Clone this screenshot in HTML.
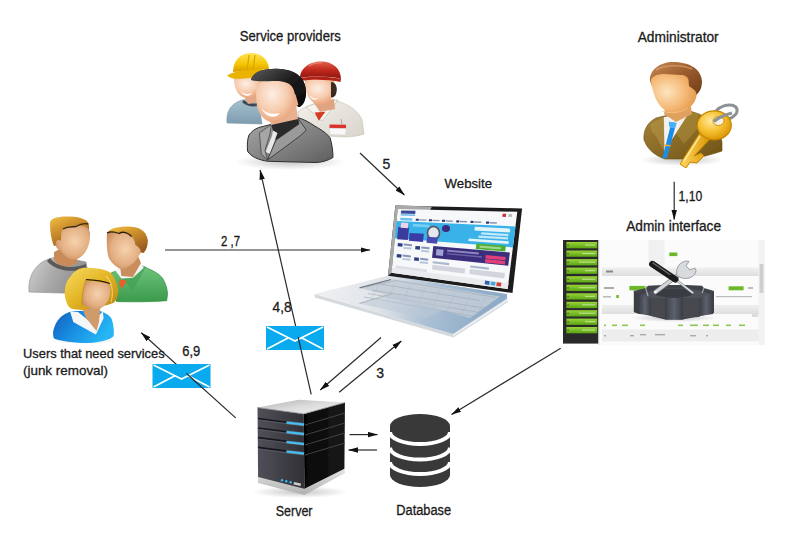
<!DOCTYPE html>
<html><head><meta charset="utf-8">
<style>
html,body{margin:0;padding:0;background:#fff;width:800px;height:547px;overflow:hidden}
svg{position:absolute;left:0;top:0}
text{font-family:"Liberation Sans",sans-serif;fill:#1a1a1a;stroke:#1a1a1a;stroke-width:0.3}
</style></head><body>
<svg width="800" height="547" viewBox="0 0 800 547">
<defs>
<filter id="soft" x="-5%" y="-5%" width="110%" height="110%"><feGaussianBlur stdDeviation="0.4"/></filter>
<marker id="ah" markerWidth="10" markerHeight="6" refX="9.5" refY="3" orient="auto" markerUnits="userSpaceOnUse">
<path d="M0,0.3 L10,3 L0,5.7 Z" fill="#111"/>
</marker>
</defs>
<g id="arrows" stroke="#2a2a2a" stroke-width="1.2" fill="none" marker-end="url(#ah)">
<line x1="165" y1="250" x2="370" y2="250"/>
<line x1="311.2" y1="394.4" x2="260.1" y2="170.1"/>
<line x1="360" y1="153" x2="404.4" y2="195"/>
<line x1="674.2" y1="181.7" x2="674.2" y2="219.6"/>
<line x1="560.7" y1="348.2" x2="451.6" y2="414.4"/>
<line x1="381" y1="337.5" x2="320.3" y2="390"/>
<line x1="339.2" y1="392.3" x2="401.3" y2="341"/>
<line x1="235.7" y1="417.9" x2="141.3" y2="332.8"/>
<line x1="349.5" y1="434.6" x2="377.5" y2="434.6"/>
<line x1="377" y1="450" x2="348.6" y2="450"/>
</g>
<g id="texts">
<text x="239.8" y="41" font-size="14" textLength="101" lengthAdjust="spacingAndGlyphs">Service providers</text>
<text x="637.7" y="42.3" font-size="14" textLength="81" lengthAdjust="spacingAndGlyphs">Administrator</text>
<text x="444.6" y="188" font-size="13.5" textLength="47.4" lengthAdjust="spacingAndGlyphs">Website</text>
<text x="626.2" y="230.6" font-size="14" textLength="94.8" lengthAdjust="spacingAndGlyphs">Admin interface</text>
<text x="23" y="358" font-size="13" textLength="141.6" lengthAdjust="spacingAndGlyphs">Users that need services</text>
<text x="23" y="374.6" font-size="13" textLength="85" lengthAdjust="spacingAndGlyphs">(junk removal)</text>
<text x="275.7" y="515.6" font-size="14" textLength="36.8" lengthAdjust="spacingAndGlyphs">Server</text>
<text x="396.3" y="514.5" font-size="14" textLength="54.8" lengthAdjust="spacingAndGlyphs">Database</text>
<text x="221" y="245.5" font-size="14" textLength="19" lengthAdjust="spacingAndGlyphs">2 ,7</text>
<text x="272.6" y="312" font-size="14" textLength="19" lengthAdjust="spacingAndGlyphs">4,8</text>
<text x="182.3" y="355.7" font-size="14" textLength="18" lengthAdjust="spacingAndGlyphs">6,9</text>
<text x="678.6" y="200.9" font-size="14" textLength="23.7" lengthAdjust="spacingAndGlyphs">1,10</text>
<text x="382.6" y="168.6" font-size="14">5</text>
<text x="376.3" y="378.3" font-size="14">3</text>
</g>

<!-- laptop -->
<g id="laptop" filter="url(#soft)">
<defs>
<linearGradient id="deckg" gradientUnits="userSpaceOnUse" x1="330" y1="285" x2="480" y2="330">
<stop offset="0" stop-color="#eceef0"/><stop offset="0.35" stop-color="#dfe3e8"/><stop offset="0.65" stop-color="#abc0d4"/><stop offset="1" stop-color="#8eabc8"/>
</linearGradient>
<linearGradient id="kbg" x1="0" y1="0" x2="1" y2="0.3">
<stop offset="0" stop-color="#c8ced6"/><stop offset="1" stop-color="#9fb4cb"/>
</linearGradient>
<linearGradient id="bezg" x1="0" y1="0" x2="1" y2="0">
<stop offset="0" stop-color="#b8b8b8"/><stop offset="0.3" stop-color="#9a9a9a"/><stop offset="0.32" stop-color="#222"/><stop offset="1" stop-color="#1a1a1a"/>
</linearGradient>
</defs>
<!-- base edge -->
<path d="M314.6,294 L453,334 L507,298.5 L508,302 L453.5,337.5 L315,297.5 Z" fill="#d4d9de"/>
<path d="M453,335.5 L507.5,300" stroke="#f4f6f8" stroke-width="1.2"/>
<!-- deck -->
<path d="M314.6,293.9 L388.9,275.5 L507,293.9 L507,298.5 L453,334 Z" fill="url(#deckg)"/>
<!-- keyboard -->
<path d="M360,288 L392,279 L500,296.5 L470,318 Z" fill="#c3ccd6" opacity="0.85"/>
<g stroke="#9aa6b4" stroke-width="0.7" opacity="0.8" fill="none">
<path d="M366,287 L396,280.5 L496,297.5"/>
<path d="M372,290 L490,309"/><path d="M368,293.5 L482,313"/><path d="M364,297 L474,316.5"/>
<path d="M380,284 L480,300.5"/>
</g>
<g stroke="#a8b4c2" stroke-width="0.6" opacity="0.7">
<path d="M380,282 L372,298"/><path d="M395,283 L387,301"/><path d="M410,285 L402,303"/><path d="M425,288 L417,306"/><path d="M440,290 L432,309"/><path d="M455,293 L447,311"/><path d="M470,295 L462,314"/><path d="M485,297 L477,316"/>
</g>
<path d="M359.5,287.8 L391,279.5" stroke="#555c66" stroke-width="1.2" opacity="0.8"/>
<!-- trackpad -->
<path d="M359.5,303.5 L392,293.5 L452,306 L426,318.5 Z" fill="#bcc9d6" opacity="0.55"/>
<path d="M359.5,303.5 L392,293.5" stroke="#a0a8b2" stroke-width="0.8"/>
<!-- bezel -->
<path d="M395.4,205.6 L522.1,208.4 L512.5,293 L388,275.7 Z" fill="#1e1e1e"/>
<path d="M395.4,205.6 L432,206.4 L429,212 L397.7,209.4 L391.5,272.8 L388,275.7 Z" fill="#a9a9a9"/>
<!-- screen -->
<path d="M397.7,209.0 L517.3,211.8 L507.7,289.1 L391.5,272.8 Z" fill="#f7f8fa"/>
<path d="M401.2,210.4 L415.5,210.7 L415.2,214.0 L400.8,213.6 Z" fill="#3a4a9a" />
<path d="M400.8,213.9 L415.1,214.4 L415.0,216.0 L400.7,215.5 Z" fill="#6ab8e8" />
<path d="M502.7,213.7 L506.3,213.8 L505.9,216.9 L502.3,216.8 Z" fill="#c83040" />
<path d="M508.6,213.9 L512.2,214.0 L511.9,217.1 L508.3,216.9 Z" fill="#bbb" />
<path d="M400.4,217.8 L412.4,218.2 L412.1,220.8 L400.2,220.3 Z" fill="#6cc0ec" />
<path d="M415.9,218.7 L418.9,218.8 L418.7,220.8 L415.7,220.7 Z" fill="#2a3a70" />
<path d="M419.4,219.2 L426.6,219.4 L426.4,220.8 L419.3,220.5 Z" fill="#8a94b0" />
<path d="M429.0,219.2 L432.0,219.3 L431.8,221.3 L428.8,221.2 Z" fill="#2a3a70" />
<path d="M432.5,219.7 L439.7,220.0 L439.5,221.3 L432.4,221.0 Z" fill="#8a94b0" />
<path d="M442.1,219.7 L445.1,219.8 L444.8,221.9 L441.9,221.8 Z" fill="#2a3a70" />
<path d="M445.6,220.2 L452.8,220.5 L452.6,221.9 L445.5,221.6 Z" fill="#8a94b0" />
<path d="M456.4,220.3 L459.4,220.4 L459.1,222.5 L456.2,222.4 Z" fill="#2a3a70" />
<path d="M459.9,220.8 L467.1,221.1 L466.9,222.5 L459.8,222.2 Z" fill="#8a94b0" />
<path d="M470.7,220.8 L473.7,221.0 L473.4,223.1 L470.4,223.0 Z" fill="#2a3a70" />
<path d="M474.2,221.3 L481.4,221.6 L481.2,223.1 L474.1,222.8 Z" fill="#8a94b0" />
<path d="M486.2,221.4 L489.2,221.6 L488.9,223.8 L485.9,223.7 Z" fill="#2a3a70" />
<path d="M489.7,222.0 L496.9,222.2 L496.7,223.8 L489.5,223.4 Z" fill="#8a94b0" />
<path d="M396.5,221.1 L515.5,226.5 L512.9,247.4 L394.8,238.3 Z" fill="#38b2e8" />
<path d="M398.3,227.0 L409.0,227.6 L407.8,240.0 L397.1,239.2 Z" fill="#3b3a9c" />
<path d="M401.2,222.6 L408.3,223.0 L407.8,228.2 L400.6,227.8 Z" fill="#f0d0e8" />
<path d="M409.7,232.9 L423.9,233.8 L423.0,241.9 L408.9,240.7 Z" fill="#3a3aa8" />
<path d="M413.0,223.8 L429.6,224.7 L429.3,227.4 L412.7,226.5 Z" fill="#7ad0f4" />
<ellipse cx="433.5" cy="233" rx="6" ry="6.5" fill="#e6e8f0" stroke="#55575e" stroke-width="1.6"/>
<ellipse cx="446" cy="228.5" rx="4" ry="3.5" fill="#3a2f80"/>
<path d="M427.1,236.7 L437.8,237.5 L437.1,243.7 L426.5,242.8 Z" fill="#4a4ab0" />
<path d="M474.8,226.8 L510.4,228.6 L510.0,232.4 L474.4,230.5 Z" fill="#ffffff" opacity="0.85"/>
<path d="M481.3,232.3 L508.6,233.9 L508.3,236.2 L481.0,234.5 Z" fill="#ffffff" opacity="0.7"/>
<path d="M478.5,235.5 L508.2,237.3 L507.9,239.6 L478.3,237.7 Z" fill="#ffffff" opacity="0.7"/>
<path d="M468.7,238.5 L508.9,241.2 L508.5,243.9 L468.4,241.0 Z" fill="#ffffff" opacity="0.85"/>
<path d="M476.4,243.5 L505.9,245.7 L505.2,251.4 L475.8,249.0 Z" fill="#4cb030" />
<path d="M479.7,245.6 L501.0,247.2 L500.7,249.5 L479.5,247.8 Z" fill="#d8f0c8" opacity="0.6"/>
<path d="M397.9,243.1 L402.7,243.5 L402.3,246.7 L397.6,246.3 Z" fill="#2c3c80" />
<path d="M403.8,243.6 L412.1,244.3 L411.9,246.3 L403.6,245.6 Z" fill="#6a7aa8" opacity="0.8"/>
<path d="M403.5,246.9 L411.7,247.6 L411.5,249.6 L403.3,248.8 Z" fill="#9ab0d0" opacity="0.7"/>
<path d="M415.5,245.9 L420.2,246.3 L419.8,249.7 L415.1,249.2 Z" fill="#2c3c80" />
<path d="M421.4,246.4 L429.6,247.2 L429.4,249.2 L421.2,248.4 Z" fill="#6a7aa8" opacity="0.8"/>
<path d="M421.0,249.8 L429.2,250.6 L429.0,252.6 L420.8,251.8 Z" fill="#9ab0d0" opacity="0.7"/>
<path d="M396.9,254.0 L401.6,254.5 L401.2,257.8 L396.6,257.2 Z" fill="#2c3c80" />
<path d="M402.7,254.6 L410.9,255.5 L410.7,257.5 L402.5,256.6 Z" fill="#6a7aa8" opacity="0.8"/>
<path d="M402.4,257.9 L410.6,258.8 L410.4,260.8 L402.2,259.8 Z" fill="#9ab0d0" opacity="0.7"/>
<path d="M414.3,257.2 L419.0,257.7 L418.7,261.0 L414.0,260.5 Z" fill="#2c3c80" />
<path d="M420.2,257.8 L428.4,258.7 L428.2,260.7 L420.0,259.8 Z" fill="#6a7aa8" opacity="0.8"/>
<path d="M419.8,261.2 L428.0,262.1 L427.8,264.1 L419.6,263.2 Z" fill="#9ab0d0" opacity="0.7"/>
<path d="M433.3,246.1 L509.9,252.6 L508.2,265.7 L432.0,257.7 Z" fill="#3a2f7c" />
<path d="M436.5,249.1 L443.6,249.8 L442.9,256.0 L435.9,255.3 Z" fill="#b8c0e8" opacity="0.8"/>
<path d="M447.2,249.7 L478.9,252.6 L478.7,254.4 L447.0,251.5 Z" fill="#c8c0f0" opacity="0.6"/>
<path d="M446.8,252.9 L482.1,256.2 L481.9,257.7 L446.7,254.3 Z" fill="#a098d0" opacity="0.5"/>
<path d="M485.8,255.0 L505.8,256.9 L505.3,260.3 L485.4,258.4 Z" fill="#e0407a" />
<path d="M485.3,259.1 L505.2,261.1 L504.8,264.5 L484.9,262.5 Z" fill="#e0407a" />
<path d="M432.8,261.2 L449.2,263.1 L449.0,265.2 L432.6,263.3 Z" fill="#8a9ab8" opacity="0.7"/>
<path d="M432.5,264.7 L465.2,268.5 L464.6,273.5 L432.0,269.5 Z" fill="#c8ccd6" opacity="0.8"/>
<path d="M470.3,265.4 L489.0,267.4 L488.8,269.7 L470.0,267.6 Z" fill="#8a9ab8" opacity="0.7"/>
<path d="M469.9,269.0 L504.9,273.1 L504.3,278.5 L469.3,274.1 Z" fill="#c8ccd6" opacity="0.8"/>
<path d="M395.7,265.6 L427.2,269.5 L426.9,272.3 L395.5,268.2 Z" fill="#d0d4dc" opacity="0.7"/>
<path d="M392.0,267.7 L508.5,282.9 L507.7,289.1 L391.5,272.8 Z" fill="#e8eaee" />
<path d="M485.1,280.6 L489.7,281.2 L489.3,285.0 L484.6,284.3 Z" fill="#3060b0" />
<path d="M490.9,281.4 L495.6,282.0 L495.1,285.8 L490.5,285.1 Z" fill="#40a8e0" />
<path d="M496.7,282.2 L501.4,282.8 L500.9,286.6 L496.3,286.0 Z" fill="#d04030" />

</g>

<!-- service providers -->
<g id="sp" filter="url(#soft)">
<defs>
<radialGradient id="skin" cx="0.42" cy="0.35" r="0.75">
<stop offset="0" stop-color="#fdeee4"/><stop offset="0.5" stop-color="#f7cdb0"/><stop offset="1" stop-color="#e6966a"/>
</radialGradient>
<radialGradient id="skin2" cx="0.45" cy="0.35" r="0.8">
<stop offset="0" stop-color="#f9e2cf"/><stop offset="0.55" stop-color="#e9b88f"/><stop offset="1" stop-color="#c9875a"/>
</radialGradient>
<linearGradient id="yhat" x1="0" y1="0" x2="0" y2="1">
<stop offset="0" stop-color="#ffe45a"/><stop offset="0.6" stop-color="#f4c400"/><stop offset="1" stop-color="#d89a00"/>
</linearGradient>
<linearGradient id="rhat" x1="0" y1="0" x2="0" y2="1">
<stop offset="0" stop-color="#e0604a"/><stop offset="0.5" stop-color="#c0281c"/><stop offset="1" stop-color="#8a1410"/>
</linearGradient>
<linearGradient id="bshirt" x1="0" y1="0" x2="0" y2="1">
<stop offset="0" stop-color="#a9c4d2"/><stop offset="1" stop-color="#7d9cae"/>
</linearGradient>
<linearGradient id="wunif" x1="0" y1="0" x2="1" y2="1">
<stop offset="0" stop-color="#f4f2ec"/><stop offset="1" stop-color="#d8d4cc"/>
</linearGradient>
<linearGradient id="gsuit" x1="0" y1="0" x2="1" y2="1">
<stop offset="0" stop-color="#a8a8a8"/><stop offset="0.6" stop-color="#7d7d7d"/><stop offset="1" stop-color="#5e5e5e"/>
</linearGradient>
<linearGradient id="bhair" x1="0" y1="0" x2="1" y2="1">
<stop offset="0" stop-color="#5a5a5a"/><stop offset="0.5" stop-color="#1c1c1c"/><stop offset="1" stop-color="#0a0a0a"/>
</linearGradient>
<radialGradient id="shad" cx="0.5" cy="0.5" r="0.5">
<stop offset="0" stop-color="#000" stop-opacity="0.22"/><stop offset="1" stop-color="#000" stop-opacity="0"/>
</radialGradient>
</defs>
<ellipse cx="290" cy="162" rx="55" ry="8" fill="url(#shad)"/>
<!-- yellow worker -->
<path d="M227,123 C226,112 230,104 242,100 L258,98 L262,124 Z" fill="url(#bshirt)" stroke="#7d98a6" stroke-width="0.6"/>
<path d="M244,100 C248,104 256,105 262,101 L262,104 C256,108 247,107 242,102 Z" fill="#3c4a52"/>
<path d="M244,96 L256,94 L258,102 L248,104 Z" fill="#e2a888"/><path d="M234,78 L262,76 C263,86 260,94 252,97 C248,98.5 244,98 241,96 C236,92 234,86 234,78 Z" fill="url(#skin)"/>
<path d="M240,91 C243,94 248,95 252,93 C250,97 244,97 240,91 Z" fill="#fff"/>
<path d="M233,72 C233,60 241,53 251,53 C261,53 268,59 269,69 Z" fill="url(#yhat)"/>
<path d="M227,75.5 C235,70 258,67 272,71 C270,75 262,77 250,78 C240,79 232,80 227,75.5 Z" fill="#e9b300"/>
<path d="M249,55 L247,71 M255,55 L253,70" stroke="#d8a600" stroke-width="1.2"/>
<!-- red worker -->
<path d="M297,138 L298,112 C302,108 308,106 314,104 L334,100 C348,104 358,110 362,120 L364,134 C352,138 340,137 330,136 Z" fill="url(#wunif)" stroke="#c8c4ba" stroke-width="0.7"/>
<path d="M306,107 C312,112 318,118 322,121 C328,114 334,106 338,100 L334,100 L314,104 Z" fill="#f6f4ee" stroke="#b9b5ac" stroke-width="0.6"/>
<path d="M314.7,112.6 L325.4,111.8 L318.8,120.8 Z" fill="#d63a24"/>
<path d="M314,103 L334,99 L335,109 L320,112 Z" fill="#e0a482"/>
<path d="M305,80 L334,80 C336,88 334,97 329,101.5 C325,104.5 320,105 316,104.4 C310,101 306,94 305,86 Z" fill="url(#skin)"/>
<path d="M331,82 C336,82 338,88 336,94 C335,97 332,98 331,97 Z" fill="#3a2a20"/>
<path d="M309.8,95.3 C312,98 315,99 318,98 C316,101 311,100 309.8,95.3 Z" fill="#fff"/>
<path d="M329.5,124.5 L346,124.8 L346,128.5 L329.5,128.2 Z" fill="#d8302a"/>
<path d="M329.5,128.2 L346,128.5 L345.5,135 L330,134.5 Z" fill="#f8f8f8" stroke="#ccc" stroke-width="0.4"/>
<path d="M341,119 L342,124.5" stroke="#999" stroke-width="0.8"/>
<path d="M300,78 C300,68 310,61.5 321,61.5 C333,61.5 341,69 341,79 C330,76 312,76 300,78 Z" fill="url(#rhat)"/>
<path d="M300,78 C312,75.5 330,76 341,79 L340.5,82 C330,79.5 312,79 300.5,81 Z" fill="#b22016"/>
<path d="M309,66 C313,63 318,62.5 322,63" stroke="#f09080" stroke-width="1.2" fill="none" opacity="0.7"/>
<!-- center man -->
<path d="M251,80 C252,72 264,68 280,69 C296,70 306,78 306,92 C306,100 303,106 299,107 L292,104 L290,84 Z" fill="url(#bhair)"/>
<path d="M247.5,151 C247,144 247.5,139 249,135 C252,131 255,129 258.75,127.5 L271.25,124.4 L297.5,117.5 C303,119 309,122 315,126.25 C322,130 327,134 330,137.5 C332,144 333,151 333,157.5 C327,161 321,162.5 315,162.5 L267.5,161.25 C259,160 251,157 247.5,151 Z" fill="url(#gsuit)" stroke="#2e2e2e" stroke-width="1"/>
<path d="M271.25,124.4 L297.5,117.5 L301,128 L276.25,142.5 Z" fill="#2a2a2a"/>
<path d="M273,130.6 L277.5,133 L276,137 L270,153.75 L265.5,152 L272,136 Z" fill="#e8e8e8"/>
<path d="M271.25,124.4 L259.4,133 L261.25,153.75 L267.5,160 L265,150 L270,134 Z" fill="#a6a6a6" stroke="#3a3a3a" stroke-width="0.7"/>
<path d="M297.5,117.5 L306.25,130 L301.25,135 L267.5,160 L276,140 L299,124 Z" fill="#9a9a9a" stroke="#2e2e2e" stroke-width="0.8"/>
<path d="M268,112 L296,104 L298,119 L271,125 Z" fill="#e8b090"/>
<ellipse cx="296" cy="100" rx="4" ry="6" fill="#eaae8a"/>
<path d="M256,90 C256,82 266,78 278,79 C290,80 296,88 295,100 C294,110 287,120 277,122.5 C267,124 259,116 257,106 C256,100 256,95 256,90 Z" fill="url(#skin)"/>
<path d="M261,108 C265,113 272,115 280,113 C276,119 266,118 261,108 Z" fill="#fff"/>
<path d="M251,80 C252,72 264,68 280,69 C296,70 306,78 306,92 C306,100 303,106 299,107 C297,100 296,94 293,88 C290,83 284,81 276,81 C266,81 258,82 251,80 Z" fill="url(#bhair)"/>
</g>

<!-- administrator -->
<g id="admin" filter="url(#soft)">
<defs>
<radialGradient id="askin" cx="0.35" cy="0.45" r="0.75">
<stop offset="0" stop-color="#fde4c0"/><stop offset="0.5" stop-color="#f6bd7c"/><stop offset="1" stop-color="#e09040"/>
</radialGradient>
<linearGradient id="ahair" x1="0" y1="0" x2="1" y2="1">
<stop offset="0" stop-color="#c88a55"/><stop offset="0.5" stop-color="#9a5c2c"/><stop offset="1" stop-color="#6e3c18"/>
</linearGradient>
<linearGradient id="asuit" x1="0" y1="0" x2="1" y2="1">
<stop offset="0" stop-color="#a58438"/><stop offset="1" stop-color="#6f5214"/>
</linearGradient>
<radialGradient id="keyg" cx="0.4" cy="0.35" r="0.7">
<stop offset="0" stop-color="#ffe9a0"/><stop offset="0.5" stop-color="#f6c234"/><stop offset="1" stop-color="#d99200"/>
</radialGradient>
<linearGradient id="keys" x1="0" y1="0" x2="1" y2="0">
<stop offset="0" stop-color="#ffd860"/><stop offset="1" stop-color="#d89400"/>
</linearGradient>
</defs>
<ellipse cx="682" cy="160" rx="42" ry="6" fill="url(#shad)"/>
<!-- suit -->
<path d="M644,140 C643,130 648,122 656,118 L664,116 L690,111 L699,114 C712,120 720,130 722,142 L722,151 C708,156 694,159 682,159 L665,159 C656,156 648,150 645,142 Z" fill="url(#asuit)" stroke="#6a4e10" stroke-width="0.6"/>
<path d="M663.7,117.3 L690,111.5 L676,133.3 L664.3,151.2 Z" fill="#f2f2f0"/>
<path d="M650,124 L658,120 L664,117 L664.5,151 L660,144 L656,136 L652,132 Z" fill="#b8954a" opacity="0.55"/>
<path d="M690,111.5 L699,114 L696,124 L700,126 L684,144 L676,133.3 Z" fill="#a88838" opacity="0.6"/>
<path d="M668.8,121.8 L676.5,123 L675,128 L667,158.3 L662.4,158.3 L670,128 Z" fill="#1f8de6"/>
<path d="M668.8,121.8 L676.5,123 L675,128 L670,128 Z" fill="#4ab0f8"/>
<path d="M664.5,145 L670.5,145.8" stroke="#f0b030" stroke-width="1.3"/>
<!-- neck -->
<path d="M666,104 L690,100 L692,114 L676,122 L664,114 Z" fill="#e0a060"/>
<!-- hair back -->
<path d="M650,81 C649,70 660,62 673,62 C688,62 701,68 702,81 C702,88 700,92 695,96 L686,90 L652,86 Z" fill="url(#ahair)"/>
<path d="M656,70 C664,65 680,64 692,69" stroke="#d9a070" stroke-width="1.6" fill="none" opacity="0.7"/>
<!-- face -->
<path d="M651,80 C652,76 658,74 664,74 L681,75 C685,75 688,77 688.5,80 L689,86 L693,89 C697,91 697,96 696,98 C694,104 690,108 684,111 C680,113 676,114 673,113.6 C664,112 657,104 654,94 C652,88 651,84 651,80 Z" fill="url(#askin)"/>
<path d="M662,111 C670,114 680,113 688,108" stroke="#f8c890" stroke-width="1" fill="none" opacity="0.7"/>
<!-- ring -->
<ellipse cx="726" cy="112.5" rx="11.5" ry="7" fill="none" stroke="#8c9296" stroke-width="3" transform="rotate(-18 726 112.5)"/>
<!-- key -->
<path d="M701,131 L711,138 L694,156 L701,153 L704,156 L697,163 L690,162 L686,168 L680,164 Z" fill="url(#keys)" stroke="#c88600" stroke-width="1"/>
<path d="M700,136 L684,161" stroke="#fff2b0" stroke-width="1.5" opacity="0.8"/>
<ellipse cx="714.3" cy="125.3" rx="17" ry="14.5" fill="url(#keyg)" stroke="#c88600" stroke-width="1.2"/>
<ellipse cx="718.5" cy="121" rx="5.5" ry="4.5" fill="#f6f1e0" stroke="#d09000" stroke-width="1"/>
<path d="M714,121.5 C718,118 724,115 732,113" stroke="#8c9296" stroke-width="3" fill="none"/>
</g>

<!-- users -->
<g id="users" filter="url(#soft)">
<defs>
<radialGradient id="uskin" cx="0.55" cy="0.45" r="0.7">
<stop offset="0" stop-color="#f6d2ae"/><stop offset="0.6" stop-color="#e3ae82"/><stop offset="1" stop-color="#c08050"/>
</radialGradient>
<linearGradient id="uhair" x1="0" y1="0" x2="0.6" y2="1">
<stop offset="0" stop-color="#f0c24a"/><stop offset="0.35" stop-color="#d69a30"/><stop offset="1" stop-color="#9a5c20"/>
</linearGradient>
<linearGradient id="whair" x1="0" y1="0" x2="1" y2="1">
<stop offset="0" stop-color="#f8dc60"/><stop offset="0.5" stop-color="#e2b424"/><stop offset="1" stop-color="#b88410"/>
</linearGradient>
<linearGradient id="gshirt" x1="0" y1="0" x2="1" y2="0.3">
<stop offset="0" stop-color="#d2d2d2"/><stop offset="0.5" stop-color="#a8a8a8"/><stop offset="1" stop-color="#8a8a8a"/>
</linearGradient>
<linearGradient id="grn" x1="0" y1="0" x2="0" y2="1">
<stop offset="0" stop-color="#6cc47a"/><stop offset="1" stop-color="#3c9a4c"/>
</linearGradient>
<linearGradient id="blu" x1="0" y1="0" x2="1" y2="0.4">
<stop offset="0" stop-color="#0c5cbc"/><stop offset="0.5" stop-color="#1a8ee2"/><stop offset="1" stop-color="#26b6f4"/>
</linearGradient>
</defs>
<ellipse cx="85" cy="341" rx="35" ry="3" fill="url(#shad)" opacity="0.5"/>
<!-- left man -->
<path d="M29,292 C28,280 32,268 44,261 C52,257 60,256 66,258 L86,262 L92,294 Z" fill="url(#gshirt)" stroke="#8c8c8c" stroke-width="0.6"/>
<path d="M50,258 C56,266 70,270 86,264 L86,268 C72,274 54,270 47,261 Z" fill="#5a5a5a"/>
<path d="M54,252 L70,244 L78,262 C72,268 60,268 54,260 Z" fill="#c88a56"/>
<path d="M50,223 C50,218 58,216 70,216.5 C82,217 89,220 89,226 L89,240 L54,246 C51,240 50,230 50,223 Z" fill="url(#uhair)"/>
<path d="M62,230 C66,226 76,225 82,226 C86,226 88,228 90,232 C91,244 86,256 76,259.5 C70,261 64,256 60,250 C57,250 55,246 56,242 C57,239 60,240 61,241 C61,236 61,233 62,230 Z" fill="url(#uskin)"/>
<path d="M62.8,229 C68,226 72,227 76,226.5 C80,224 84,223 88.3,224" stroke="#3a2a12" stroke-width="1.4" fill="none"/>
<!-- right man -->
<path d="M111.5,272.7 C118,270 130,268 144.5,267 C152,270 160,274 163,279 C166,284 167.5,290 167.5,294 L166.7,300.7 C150,302 130,302 116.5,301.5 C112,294 110,282 111.5,272.7 Z" fill="url(#grn)" stroke="#2f8a3c" stroke-width="0.7"/>
<path d="M116,272 L133,290 L146,267 L142,265 L128,279 L119,268 Z" fill="#3c9a4c" opacity="0.5"/>
<path d="M115.6,271 L121.4,278.5 L133,277.7 L143.7,267.8 L140,262 L120,268 Z" fill="#f6f6f6"/>
<path d="M119.8,279.3 L127.2,281 L125,284 L122,289 L119,284 Z" fill="#e5602a"/>
<path d="M119.8,265 L138,256 L141,263 L133,277 L121.4,276 Z" fill="#c98e5c"/>
<path d="M107.4,232.4 C110,228 120,226.6 128,226.6 C138,226.6 146,230 147.8,240 C148,246 146,250 143.7,253 L138,252 L108,240 Z" fill="url(#uhair)"/>
<path d="M107,233 C112,231 116,232.5 120,233 C124,231 128,233 131.3,236.5 C134,238 135,242 135.4,244.7 C137,246 139,247 140.4,249.7 C141,253 140,255 139.5,254.6 C137,259 135,262 134.6,262 C130,266 126,269 121.4,269.4 C114,266 109,260 108.2,256 C106.6,250 106.6,240 107,233 Z" fill="url(#uskin)"/>
<path d="M107,233 C111,231 115,232 119,233.5 C123,231 128,232.5 131.5,236.5" stroke="#2a1a08" stroke-width="1.3" fill="none"/>
<!-- woman -->
<path d="M53.1,331.4 C55,324 58,319 62,316 C66,313 70,311.2 75,311 L100,311 C106,313 111,316 112,320 C114,326 114,332 113.7,336 C110,340 100,342.5 88,343 C74,343 60,341 54,338.5 C53,336 53,334 53.1,331.4 Z" fill="url(#blu)"/>
<path d="M70,311.2 L73.3,322 L95.8,334.5 L96.6,333 L103.6,318.2 L102.8,311.2 L97,318 L88,320 L78,312 Z" fill="#f4f6f8"/>
<path d="M80,303 L101,300 L99,322 L96.5,331 L86,318 Z" fill="#d09a6a"/>
<path d="M70.2,277 C75,270 80,267.8 85.7,267.8 C98,267.8 108,270 112,274 C116,280 118.3,286 118.3,291 C118,297 116,301 113.7,302.7 L107.5,305 L82,310 C76,310 70,309 68.6,306.6 C65,300 64.5,295 64.75,291 C65,285 67,280 70.2,277 Z" fill="url(#whair)"/>
<path d="M85.7,281 L109.8,283.3 C111,290 110,297 108,301 C105,306 100,309.7 95,309.7 C90,309 86,306 82,304 C82,296 83,288 85.7,281 Z" fill="url(#uskin)"/>
<path d="M86,279.6 C95,280 103,281 110,283.5" stroke="#2a1a08" stroke-width="1.2" fill="none"/>
<path d="M85.7,279.4 C83,288 81.5,298 82,306" stroke="#b88410" stroke-width="1" fill="none" opacity="0.6"/>
<path d="M106,276 C112,282 114,292 111,302" stroke="#fbe890" stroke-width="1.2" fill="none" opacity="0.6"/>
</g>

<!-- server -->
<g id="server" filter="url(#soft)">
<defs>
<linearGradient id="stop" x1="0" y1="0" x2="1" y2="1">
<stop offset="0" stop-color="#b0b0b0"/><stop offset="0.5" stop-color="#dcdcdc"/><stop offset="1" stop-color="#f4f4f4"/>
</linearGradient>
<linearGradient id="sfront" x1="0" y1="0" x2="1" y2="0">
<stop offset="0" stop-color="#505058"/><stop offset="1" stop-color="#303036"/>
</linearGradient>
<linearGradient id="sright" x1="0" y1="0" x2="1" y2="0">
<stop offset="0" stop-color="#050505"/><stop offset="1" stop-color="#1a1a1a"/>
</linearGradient>
<linearGradient id="sbase" x1="0" y1="0" x2="0" y2="1">
<stop offset="0" stop-color="#e8e8e8"/><stop offset="1" stop-color="#b0b0b0"/>
</linearGradient>
</defs>
<ellipse cx="300" cy="492" rx="48" ry="6" fill="url(#shad)"/>
<!-- base -->
<path d="M258,476 L304.4,488 L344.4,468 L345,473 L304.4,495 L258,483 Z" fill="url(#sbase)"/>
<!-- front -->
<path d="M257.5,407.6 L303.75,413.9 L304.4,488.75 L258.1,476.9 Z" fill="url(#sfront)"/>
<!-- right -->
<path d="M303.75,413.9 L345,402.6 L344.4,468.75 L304.4,488.75 Z" fill="url(#sright)"/>
<!-- top -->
<path d="M257.5,407.6 L298.75,399.75 L345,402.6 L303.75,413.9 Z" fill="url(#stop)"/>
<path d="M257.5,407.6 L303.75,413.9 L345,402.6" stroke="#888" stroke-width="0.8" fill="none"/>
<!-- front grooves -->
<g stroke="#18181c" stroke-width="1.6">
<path d="M258,418.5 L304,424.5"/><path d="M258,428 L304,434"/><path d="M258,437.6 L304,443.6"/><path d="M258,447.4 L304,453.4"/>
</g>
<g stroke="#5c5c66" stroke-width="0.8">
<path d="M258,420 L304,426"/><path d="M258,429.5 L304,435.5"/><path d="M258,439 L304,445"/><path d="M258,449 L304,455"/>
</g>
<!-- blue bars -->
<g stroke="#9ee0ff" stroke-width="3" opacity="0.35"><path d="M286.5,422.5 L304,424.5"/><path d="M286.5,432 L304,434"/><path d="M286.5,442 L304,444"/><path d="M286.5,451.5 L304,453.5"/></g>
<g stroke="#44c0f6" stroke-width="1.8">
<path d="M286.5,422.5 L304,424.5"/><path d="M286.5,432 L304,434"/><path d="M286.5,442 L304,444"/><path d="M286.5,451.5 L304,453.5"/>
</g>
<!-- right stripes -->
<g stroke="#4a4a4a" stroke-width="0.9">
<path d="M305,425 L345,413"/><path d="M305,435 L345,423"/><path d="M305,445 L345,433"/><path d="M305,455 L345,443"/>
</g>
<g fill="#3ab8f2"><circle cx="282" cy="480.3" r="1.2"/><circle cx="286.3" cy="481.3" r="1.2"/><circle cx="290.6" cy="482.3" r="1.2"/></g>
<path d="M294,482 L301,483.5 L300.5,486 L293.5,484.5 Z" fill="#ccc"/>
</g>

<!-- admin interface -->
<g id="ai" filter="url(#soft)">
<defs>
<linearGradient id="gbtn" x1="0" y1="0" x2="0" y2="1">
<stop offset="0" stop-color="#9ad43a"/><stop offset="1" stop-color="#5aa414"/>
</linearGradient>
<linearGradient id="gear" x1="0" y1="0" x2="0" y2="1">
<stop offset="0" stop-color="#6a6e78"/><stop offset="1" stop-color="#3a3d45"/>
</linearGradient>
<linearGradient id="gtooth" x1="0" y1="0" x2="1" y2="0">
<stop offset="0" stop-color="#3c3f48"/><stop offset="0.5" stop-color="#5d616b"/><stop offset="1" stop-color="#3a3d45"/>
</linearGradient>
<linearGradient id="barg" x1="0" y1="0" x2="0" y2="1">
<stop offset="0" stop-color="#f0f0f0"/><stop offset="1" stop-color="#dedede"/>
</linearGradient>
</defs>
<rect x="598" y="240" width="167" height="105" fill="#fbfbfb"/>
<rect x="598" y="240" width="1.5" height="105" fill="#e6e6e6"/>
<rect x="648.5" y="240" width="16" height="26" fill="#f0f0f0"/>
<rect x="669.3" y="252.5" width="8" height="3.6" fill="#6cb82a"/>
<rect x="602" y="267.5" width="157" height="8.5" fill="url(#barg)"/>
<rect x="606" y="270.5" width="7" height="2" fill="#888"/>
<rect x="602" y="305" width="157" height="9" fill="url(#barg)"/>
<rect x="629.4" y="285.9" width="17" height="4.4" fill="#6cb82a"/>
<rect x="728.6" y="286.3" width="15" height="4" fill="#6cb82a"/>
<rect x="604" y="287" width="10" height="2" fill="#aaa"/>
<rect x="616.3" y="295" width="2.5" height="3" fill="#6cb82a"/>
<rect x="603" y="296" width="8" height="1.5" fill="#bbb"/>
<rect x="716" y="296" width="36" height="1.2" fill="#bbb"/>
<rect x="748" y="287" width="5" height="2" fill="#bbb"/>
<rect x="602" y="329.5" width="157" height="12" fill="#ededed"/>
<g fill="#8cc850"><rect x="604" y="324.5" width="2" height="1.6"/><rect x="612" y="324.5" width="5" height="1.6"/><rect x="622" y="324.5" width="6" height="1.6"/><rect x="640" y="324.5" width="5" height="1.6"/><rect x="678" y="324.5" width="5" height="1.6"/><rect x="690" y="324.5" width="8" height="1.6"/><rect x="703" y="324.5" width="6" height="1.6"/><rect x="713" y="324.5" width="6" height="1.6"/><rect x="726" y="324.5" width="5" height="1.6"/><rect x="739" y="324.5" width="6" height="1.6"/></g>
<g fill="#aaa"><rect x="604" y="335" width="2" height="1.4"/><rect x="630" y="335" width="4" height="1.4"/><rect x="640" y="334" width="6" height="1.4"/><rect x="655" y="334" width="10" height="1.4"/><rect x="690" y="335" width="6" height="1.4"/><rect x="706" y="335" width="2" height="1.4"/></g>
<rect x="752" y="313" width="6" height="4" fill="#ddd"/>
<rect x="758.7" y="240" width="6" height="105" fill="#f2f2f2"/>
<rect x="759.5" y="264" width="4" height="29" fill="#cfcfcf"/>
<!-- sidebar -->
<rect x="563" y="240" width="35.2" height="103.6" fill="#2b2b2b"/>
<rect x="566.4" y="242" width="30.8" height="6.3" fill="url(#gbtn)"/><rect x="567.5" y="244.6" width="1.2" height="1.2" fill="#2a4a10"/><rect x="585" y="244.5" width="10" height="1.1" fill="#eef8e0" opacity="0.6"/><rect x="566.4" y="250.5" width="30.8" height="6.3" fill="url(#gbtn)"/><rect x="567.5" y="253.1" width="1.2" height="1.2" fill="#2a4a10"/><rect x="582" y="253.0" width="13" height="1.1" fill="#eef8e0" opacity="0.6"/><rect x="566.4" y="259.1" width="30.8" height="6.3" fill="url(#gbtn)"/><rect x="567.5" y="261.70000000000005" width="1.2" height="1.2" fill="#2a4a10"/><rect x="579" y="261.6" width="16" height="1.1" fill="#eef8e0" opacity="0.6"/><rect x="566.4" y="267.6" width="30.8" height="6.3" fill="url(#gbtn)"/><rect x="567.5" y="270.20000000000005" width="1.2" height="1.2" fill="#2a4a10"/><rect x="585" y="270.1" width="10" height="1.1" fill="#eef8e0" opacity="0.6"/><rect x="566.4" y="276.2" width="30.8" height="6.3" fill="url(#gbtn)"/><rect x="567.5" y="278.8" width="1.2" height="1.2" fill="#2a4a10"/><rect x="582" y="278.7" width="13" height="1.1" fill="#eef8e0" opacity="0.6"/><rect x="566.4" y="284.7" width="30.8" height="6.3" fill="url(#gbtn)"/><rect x="567.5" y="287.3" width="1.2" height="1.2" fill="#2a4a10"/><rect x="579" y="287.2" width="16" height="1.1" fill="#eef8e0" opacity="0.6"/><rect x="566.4" y="293.3" width="30.8" height="6.3" fill="url(#gbtn)"/><rect x="567.5" y="295.90000000000003" width="1.2" height="1.2" fill="#2a4a10"/><rect x="585" y="295.8" width="10" height="1.1" fill="#eef8e0" opacity="0.6"/><rect x="566.4" y="301.8" width="30.8" height="6.3" fill="url(#gbtn)"/><rect x="567.5" y="304.40000000000003" width="1.2" height="1.2" fill="#2a4a10"/><rect x="582" y="304.3" width="13" height="1.1" fill="#eef8e0" opacity="0.6"/><rect x="566.4" y="310.2" width="30.8" height="6.3" fill="url(#gbtn)"/><rect x="567.5" y="312.8" width="1.2" height="1.2" fill="#2a4a10"/><rect x="579" y="312.7" width="16" height="1.1" fill="#eef8e0" opacity="0.6"/><rect x="566.4" y="318.6" width="30.8" height="6.3" fill="url(#gbtn)"/><rect x="567.5" y="321.20000000000005" width="1.2" height="1.2" fill="#2a4a10"/><rect x="585" y="321.1" width="10" height="1.1" fill="#eef8e0" opacity="0.6"/><rect x="566.4" y="327.0" width="30.8" height="6.3" fill="url(#gbtn)"/><rect x="567.5" y="329.6" width="1.2" height="1.2" fill="#2a4a10"/><rect x="582" y="329.5" width="13" height="1.1" fill="#eef8e0" opacity="0.6"/>
<!-- gear -->
<ellipse cx="674" cy="318" rx="44" ry="4" fill="url(#shad)"/>
<path d="M634,291 L646,288 L648,285.7 L662,285 L686,285 L702,285.7 L704,288 L714,291 L714,313 L700,316 L683,319.6 L665,319.6 L651,316 L634,312 Z" fill="#3f424a"/>
<path d="M633.8,290 L639,296 L639,314 L633.8,312 Z" fill="#3a3d44"/>
<path d="M638.9,296 L651,296 L651,315 L638.9,314 Z" fill="url(#gtooth)"/>
<path d="M651,298 L665.1,298 L665.1,317.7 L651,316 Z" fill="#464950"/>
<path d="M665.1,297.9 L683,297.9 L683,319.6 L665.1,319.6 Z" fill="url(#gtooth)"/>
<path d="M683,298 L699.7,298 L699.7,317 L683,318 Z" fill="#464950"/>
<path d="M699.7,293.4 L713,293.4 L713,313.9 L699.7,316 Z" fill="url(#gtooth)"/>
<path d="M640,296 C650,290 662,288 674,288 C688,288 700,290 710,294 L699.7,298 L683,298 C676,296 670,296 665,298 L651,298 Z" fill="#50535c"/>
<ellipse cx="674" cy="293" rx="20" ry="4.5" fill="#393c43"/>
<path d="M645,286 L648,296 M705,285.5 L702,293" stroke="#fff" stroke-width="1.2" opacity="0.5"/>
<!-- wrench -->
<path d="M655.5,292 L681,273" stroke="#7c8086" stroke-width="4.6" stroke-linecap="round"/>
<path d="M655.5,292 L681,273" stroke="#d4d7da" stroke-width="3" stroke-linecap="round"/>
<circle cx="655.5" cy="292" r="1.3" fill="#fff"/>
<path d="M677,276 C675,268 680,261 687,261 L689,261.5 L686,266 L690,270 L695,268 L696,270 C696,276 689,280 682,278 Z" fill="#d8dbde" stroke="#8a8e94" stroke-width="0.8"/>
<!-- screwdriver -->
<path d="M675,279 L692.6,292.7" stroke="#8a8e94" stroke-width="2.6" stroke-linecap="round"/>
<path d="M675,279 L692.6,292.7" stroke="#e6e8ea" stroke-width="1.2" stroke-linecap="round"/>
<path d="M652.3,264 L675.3,279.3" stroke="#1a1a1a" stroke-width="6.4" stroke-linecap="round"/>
<path d="M653,263 L670,274.5" stroke="#707070" stroke-width="1.3" stroke-linecap="round"/>
</g>
<!-- envelopes -->
<g id="env1" transform="translate(266,326)">
<rect width="58" height="24" fill="#0aaaee"/>
<path d="M1,1 L29,15 L57,1 M1,23 L22,12 M57,23 L36,12" stroke="#fff" stroke-width="1.6" fill="none"/>
</g>
<g id="env2" transform="translate(152.5,364)">
<rect width="58" height="24" fill="#0aaaee"/>
<path d="M1,1 L29,15 L57,1 M1,23 L22,12 M57,23 L36,12" stroke="#fff" stroke-width="1.6" fill="none"/>
</g>
<path d="M298.1,337 L301,349.5 M186.5,373.5 L202.5,388" stroke="#2a2a2a" stroke-width="1.2"/>
<!-- database -->
<g id="db">
<rect x="390" y="426" width="60" height="49" fill="#393939"/>
<ellipse cx="420" cy="426" rx="30" ry="12" fill="#393939"/>
<ellipse cx="420" cy="475" rx="30" ry="12" fill="#393939"/>
<path d="M390,432 A30,12 0 0 0 450,432 M390,447.5 A30,12 0 0 0 450,447.5 M390,462 A30,12 0 0 0 450,462" stroke="#fff" stroke-width="4" fill="none"/>
</g>
</svg>
</body></html>
